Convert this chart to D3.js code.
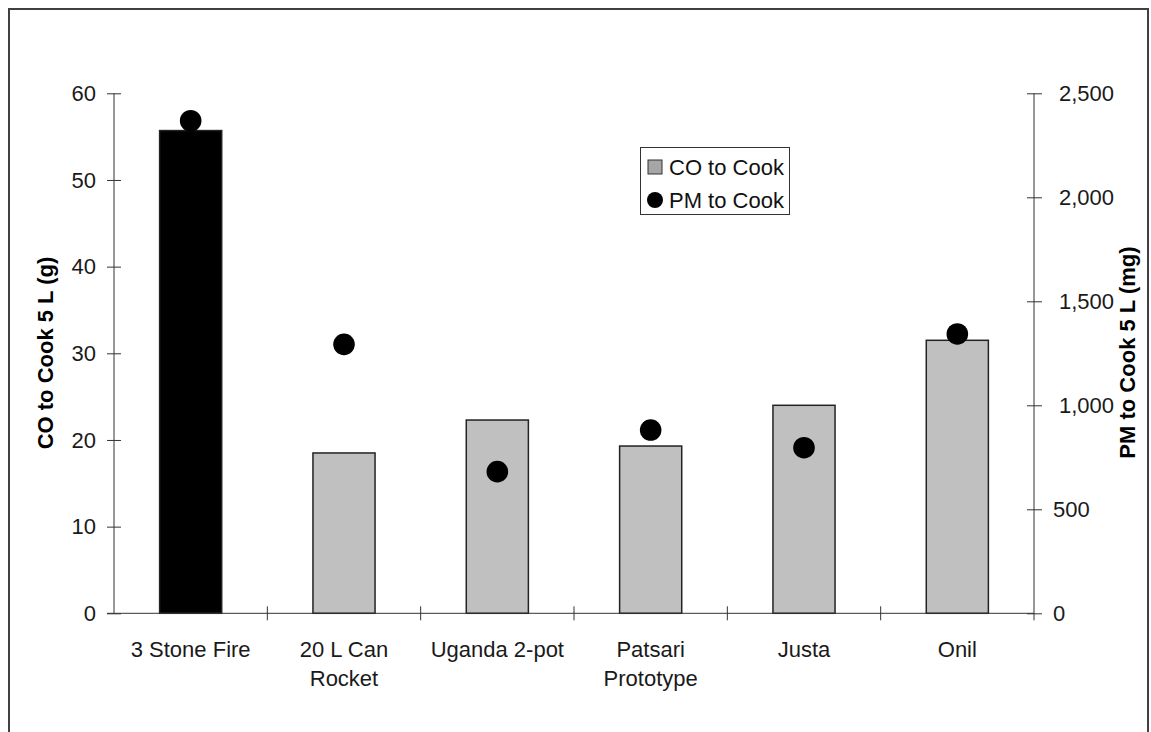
<!DOCTYPE html>
<html><head><meta charset="utf-8">
<script src="https://cdn.jsdelivr.net/npm/d3@7/dist/d3.min.js"></script>
<style>body{margin:0;background:#fff}svg{display:block;font-family:"Liberation Sans",Arial,sans-serif}</style>
</head><body>
<svg id="c" width="1151" height="732"></svg>
<script>
const categories = [["3 Stone Fire"], ["20 L Can", "Rocket"], ["Uganda 2-pot"], ["Patsari", "Prototype"], ["Justa"], ["Onil"]];
const coValues = [55.7, 18.5, 22.3, 19.3, 24.0, 31.5];
const pmValues = [2368, 1293, 681, 881, 796, 1343];
const leftTicks = [0, 10, 20, 30, 40, 50, 60];
const rightTicks = [0, 500, 1000, 1500, 2000, 2500];
const barColors = ["#000000", "#c0c0c0", "#c0c0c0", "#c0c0c0", "#c0c0c0", "#c0c0c0"];

const svg = d3.select("#c");
const L = 114, R = 1034, T = 93.3, B = 613.3;
const FS = 22;

svg.append("rect").attr("x", 9).attr("y", 9).attr("width", 1139).attr("height", 760)
  .attr("fill", "none").attr("stroke", "#404040").attr("stroke-width", 2);

const x = d3.scaleBand().domain(d3.range(categories.length)).range([L, R]).padding(0);
const yL = d3.scaleLinear().domain([0, 60]).range([B, T]);
const yR = d3.scaleLinear().domain([0, 2500]).range([B, T]);
const bw = x.bandwidth() * 0.405;

// bars
svg.append("g").selectAll("rect").data(coValues).join("rect")
  .attr("x", (d, i) => x(i) + x.bandwidth() / 2 - bw / 2)
  .attr("y", d => yL(d))
  .attr("width", bw)
  .attr("height", d => B - yL(d))
  .attr("fill", (d, i) => barColors[i])
  .attr("stroke", "#222").attr("stroke-width", 1.5);

// left axis
const gL = svg.append("g").attr("transform", `translate(${L},0)`)
  .call(d3.axisLeft(yL).tickValues(leftTicks).tickSize(7).tickFormat(d3.format("d")));
gL.selectAll(".tick line").attr("x2", 7).attr("x1", -7);
gL.selectAll(".tick text").attr("x", -18);
gL.select(".domain").attr("d", `M0,${T}V${B}`);

// right axis
const gR = svg.append("g").attr("transform", `translate(${R},0)`)
  .call(d3.axisRight(yR).tickValues(rightTicks).tickSize(7).tickFormat(d3.format(",")));
gR.selectAll(".tick line").attr("x1", -7).attr("x2", 8);
gR.selectAll(".tick text").attr("x", d => d >= 1000 ? 25 : 19);
gR.select(".domain").attr("d", `M0,${T}V${B + 7}`);

// bottom axis
const gB = svg.append("g").attr("transform", `translate(0,${B})`);
gB.append("line").attr("x1", L - 7).attr("x2", R).attr("y1", 0).attr("y2", 0).attr("stroke", "#333");
const bounds = d3.range(categories.length).map(i => x(i)).concat([R]);
gB.selectAll("line.t").data(bounds.slice(1, -1)).join("line").attr("class", "t")
  .attr("x1", d => d).attr("x2", d => d).attr("y1", -7).attr("y2", 7).attr("stroke", "#333");
gB.selectAll("text").data(categories).join("text")
  .attr("x", (d, i) => x(i) + x.bandwidth() / 2)
  .attr("y", 43.5)
  .attr("text-anchor", "middle").attr("font-size", FS).attr("fill", "#1a1a1a")
  .each(function (d) {
    d3.select(this).selectAll("tspan").data(d).join("tspan")
      .attr("x", d3.select(this).attr("x")).attr("dy", (t, j) => j === 0 ? 0 : 29.3).text(t => t);
  });

[gL, gR].forEach(g => {
  g.selectAll(".tick text").attr("font-size", FS).attr("fill", "#1a1a1a").attr("font-family", "Liberation Sans, Arial, sans-serif");
  g.selectAll("line, path").attr("stroke", "#333");
});

// dots
svg.append("g").selectAll("circle").data(pmValues).join("circle")
  .attr("cx", (d, i) => x(i) + x.bandwidth() / 2)
  .attr("cy", d => yR(d))
  .attr("r", 10.8).attr("fill", "#000");

// axis titles
svg.append("text").attr("transform", `translate(53,353) rotate(-90)`)
  .attr("text-anchor", "middle").attr("font-size", 22).attr("font-weight", "bold").attr("fill", "#000")
  .text("CO to Cook 5 L (g)");
svg.append("text").attr("transform", `translate(1135,352.5) rotate(-90)`)
  .attr("text-anchor", "middle").attr("font-size", 22).attr("font-weight", "bold").attr("fill", "#000")
  .text("PM to Cook 5 L (mg)");

// legend
const lg = svg.append("g");
lg.append("rect").attr("x", 640.5).attr("y", 147.5).attr("width", 149).attr("height", 67)
  .attr("fill", "#fff").attr("stroke", "#333").attr("stroke-width", 1);
lg.append("rect").attr("x", 648).attr("y", 160).attr("width", 14).attr("height", 14)
  .attr("fill", "#a6a6a6").attr("stroke", "#333").attr("stroke-width", 1);
lg.append("circle").attr("cx", 655).attr("cy", 200).attr("r", 8).attr("fill", "#000");
lg.append("text").attr("x", 669).attr("y", 175).attr("font-size", FS).attr("fill", "#111").text("CO to Cook");
lg.append("text").attr("x", 669).attr("y", 208).attr("font-size", FS).attr("fill", "#111").text("PM to Cook");
</script>
</body></html>
